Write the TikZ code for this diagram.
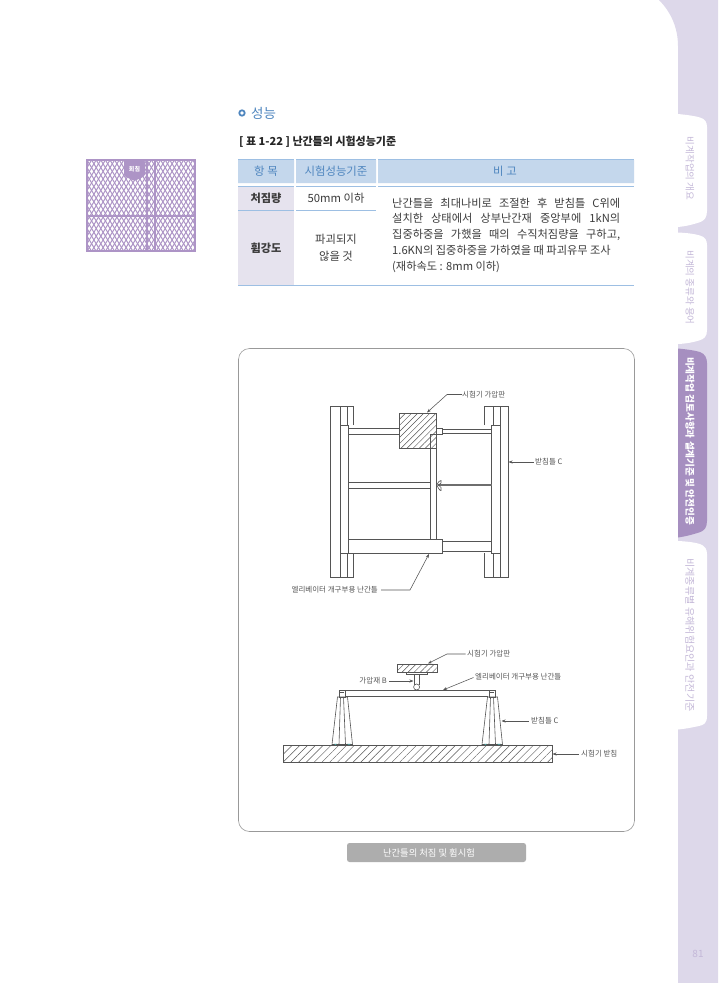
\documentclass[tikz,border=0pt]{standalone}
\usepackage{fontspec}
\usetikzlibrary{patterns,patterns.meta,arrows.meta,calc}
\setmainfont{Noto Sans CJK KR}
\definecolor{band}{HTML}{DDD8EA}
\definecolor{tabdark}{HTML}{A68FC0}
\definecolor{tabtxt}{HTML}{C4B8D8}
\definecolor{blue1}{HTML}{4F86BF}
\definecolor{head}{HTML}{C4D7EC}
\definecolor{tline}{HTML}{9DBFE3}
\definecolor{rowg}{HTML}{E6E3EE}
\definecolor{txt}{HTML}{3C3C3C}
\definecolor{lineg}{HTML}{555555}
\definecolor{meshc}{HTML}{AD94C6}
\tikzset{
 x=1pt,y=-1pt,
 tabtext/.style={rotate=-90,text=tabtxt,font=\fontsize{9.5}{11}\selectfont,inner sep=0},
 hd/.style={text=blue1,font=\fontsize{11.4}{13}\selectfont,inner sep=0},
 cell/.style={text=txt,font=\fontsize{11.3}{15}\selectfont,inner sep=0,align=center},
 cellb/.style={text=txt,font=\bfseries\fontsize{11.2}{13}\selectfont,inner sep=0},
 rem/.style={text=txt,font=\fontsize{11.2}{15.6}\selectfont,inner sep=0,anchor=west,text height=9pt,text depth=2.5pt},
 dwg/.style={draw=lineg,line width=.6pt},
 callarrow/.style={draw=lineg,line width=.55pt,-{Stealth[length=4pt,width=3pt]}},
 lab/.style={text=lineg,font=\fontsize{7.5}{8}\selectfont,inner sep=0},
 hatchbox/.style={draw=lineg,line width=.6pt,pattern={Lines[angle=45,distance=4.3pt,line width=.45pt]},pattern color=lineg},
 hatchbase/.style={draw=lineg,line width=.6pt,pattern={Lines[angle=45,distance=5.5pt,line width=.45pt]},pattern color=lineg},
 tline/.style={draw=tline,line width=1.1pt},
}
\begin{document}
\begin{tikzpicture}
\useasboundingbox (0,0) rectangle (718,983);
\fill[white] (0,0) rectangle (718,983);
% side band
\fill[band] (659,0) .. controls (671,12) and (678,28) .. (678,46) -- (678,983) -- (718,983) -- (718,0) -- cycle;
% tabs
\fill[white] (678,114) .. controls (688,115) and (695,116) .. (700,117.5) .. controls (705,119) and (707,122) .. (707,127) -- (707,211) .. controls (707,218) and (704,221) .. (699,222.5) .. controls (694,224) and (688,226) .. (678,227) -- cycle;
\fill[white] (678,232.5) .. controls (688,233) and (695,234) .. (700,235.5) .. controls (705,237) and (707,240) .. (707,245) -- (707,330) .. controls (707,337) and (704,339) .. (699,340.5) .. controls (694,342) and (688,343.5) .. (678,344) -- cycle;
\fill[tabdark] (678,348.5) .. controls (688,349.5) and (695,350.5) .. (700,352) .. controls (705,354) and (707,358) .. (707,363) -- (707,521) .. controls (707,528) and (704,531) .. (699,532.5) .. controls (694,534) and (688,536) .. (678,537.5) -- cycle;
\fill[white] (678,541) .. controls (688,541.5) and (695,542.5) .. (700,544) .. controls (705,546) and (707,549) .. (707,554) -- (707,716) .. controls (707,723) and (704,725) .. (699,726) .. controls (694,727) and (688,728.5) .. (678,729.5) -- cycle;
\node[tabtext] (t1) at (690,168.5) {비계작업의 개요};
\node[tabtext] (t2) at (690,287.5) {비계의 종류와 용어};
\node[tabtext,text=white,font=\bfseries\fontsize{9.6}{11}\selectfont] (t3) at (690,441) {비계작업 검토사항과 설계기준 및 안전인증};
\node[tabtext,font=\fontsize{10.1}{11}\selectfont] (t4) at (690,635) {비계종류별 유해위험요인과 안전기준};
\node[text=tabtxt,font=\fontsize{10}{12}\selectfont,inner sep=0] (pg) at (698,954) {81};
% heading
\draw[blue1,line width=1.8pt] (242,113) circle (2.7);
\node[text=blue1,font=\fontsize{13.5}{15}\selectfont,inner sep=0,anchor=west] (h1) at (251,113) {성능};
\node[text=black!85,font=\bfseries\fontsize{11}{13}\selectfont,inner sep=0,anchor=west] (h2) at (239,142) {[ 표 1-22 ] 난간틀의 시험성능기준};
% mesh icon
\begin{scope}
\clip (87,160) rectangle (195,251);
\foreach \i in {-20,...,40}{
 \draw[meshc,line width=1pt] (87+\i*4.6,160) -- ++(55,91);
 \draw[meshc,line width=1pt] (87+\i*4.6,160) -- ++(-55,91);
}
\end{scope}
\draw[meshc,line width=2.2pt] (87,160) rectangle (195,251);
\draw[meshc,line width=2pt] (146.5,160) -- (146.5,251) (155,160) -- (155,251) (87,215.5) -- (195,215.5);
\fill[meshc,rounded corners=1.5pt] (124,160) -- (124,176) -- (134.5,181) -- (145,176) -- (145,160) -- cycle;
\node[text=white,font=\bfseries\fontsize{6}{7}\selectfont,inner sep=0] (tag) at (134.5,169) {회침};
% table
\fill[head] (238,160) rectangle (294,183) (296,160) rectangle (376,183) (378,160) rectangle (634,183);
\fill[rowg] (238,187) rectangle (294,285);
\foreach \a/\b in {238/294,296/376,378/634}{
 \draw[tline] (\a,159.5) -- (\b,159.5);
 \draw[tline] (\a,186.5) -- (\b,186.5);
}
\draw[tline] (238,210.5) -- (294,210.5) (296,210.5) -- (376,210.5);
\draw[tline] (238,285.5) -- (634,285.5);
\node[hd] (a1) at (266,171) {항 목};
\node[hd] (a2) at (336,171) {시험성능기준};
\node[hd] (a3) at (505,171) {비 고};
\node[cellb] (b1) at (266,198) {처짐량};
\node[cellb] (b2) at (266,248) {휨강도};
\node[cell] (c1) at (336,198) {50mm 이하};
\node[cell,font=\fontsize{11.3}{17}\selectfont] (c2) at (336,248) {파괴되지\\않을 것};
\node[rem] (r1) at (392,204) {\makebox[228pt][s]{난간틀을 최대나비로 조절한 후 받침틀 C위에}};
\node[rem] (r2) at (392,219.7) {\makebox[228pt][s]{설치한 상태에서 상부난간재 중앙부에 1kN의}};
\node[rem] (r3) at (392,235.4) {\makebox[228pt][s]{집중하중을 가했을 때의 수직처짐량을 구하고,}};
\node[rem] (r4) at (392,251.1) {1.6KN의 집중하중을 가하였을 때 파괴유무 조사};
\node[rem] (r5) at (392,267) {(재하속도 : 8mm 이하)};
% panel
\draw[draw=black!40,line width=.6pt,rounded corners=11pt] (238.5,348.5) rectangle (634.5,831.5);
\fill[black!32,rounded corners=2.5pt] (347,843) rectangle (526,862);
\node[text=white,font=\fontsize{9.3}{12}\selectfont,inner sep=0] (cap) at (429,852.5) {난간틀의 처짐 및 휨시험};
% TOP VIEW: left frame
\draw[dwg] (353,425) -- (353,406) -- (330,406) -- (330,577) -- (353,577) -- (353,553);
\draw[dwg] (340,406) -- (340,577);
\draw[dwg] (347.3,406) -- (347.3,425) (347.3,553) -- (347.3,577);
\draw[dwg] (340,425) -- (348.3,425) -- (348.3,553) -- (340,553);
% right frame
\draw[dwg] (484,425) -- (484,406) -- (508,406) -- (508,577) -- (484,577) -- (484,553);
\draw[dwg] (500,406) -- (500,577);
\draw[dwg] (493.5,406) -- (493.5,425) (493.5,553) -- (493.5,577);
\draw[dwg] (500,425) -- (491.7,425) -- (491.7,553) -- (500,553);
% rails
\draw[dwg] (348,428.5) -- (399,428.5) (348,434) -- (399,434);
\draw[dwg] (436,428.5) -- (442,428.5) -- (442,434) -- (436,434);
\draw[dwg] (442,429.5) -- (491.7,429.5) (442,433.5) -- (491.7,433.5);
\draw[dwg] (348,482) -- (430.5,482) (348,488) -- (430.5,488);
\draw[dwg] (430.5,434) -- (430.5,539) (436,448) -- (436,539);
\draw[dwg] (348,539) -- (442,539) -- (442,553) -- (348,553);
\draw[dwg] (442,541.5) -- (491.7,541.5) (442,551.5) -- (491.7,551.5);
\path[hatchbox] (399,413) rectangle (436,448);
\draw[dwg] (430.5,434) -- (430.5,448) (430.5,434) -- (436,434);
% threaded rod
\draw[lineg!85,line width=1.4pt,dash pattern=on .5pt off .25pt] (438,485) -- (491.7,485);
\draw[dwg] (437,485) .. controls (438,482) and (440,480) .. (441,480.5) .. controls (442,482) and (441,484) .. (438.5,485) .. controls (441,486) and (442,489) .. (441,490.5) .. controls (440,491) and (438,488) .. (437,485);
% top callouts
\node[lab,anchor=west] (l1) at (462,394.5) {시험기 가압판};
\coordinate (l1k) at (447,394.5);
\coordinate (l1t) at (427,412.5);
\draw[callarrow] (l1.west) -- (l1k) -- (l1t);
\node[lab,anchor=west] (l2) at (535,462) {받침틀 C};
\coordinate (l2t) at (508.5,462);
\draw[callarrow] (l2.west) ++(-1.5,0) -- (l2t);
\node[lab,anchor=east] (l3) at (378,590) {엘리베이터 개구부용 난간틀};
\coordinate (l3k) at (410,590);
\coordinate (l3t) at (429,554);
\draw[callarrow] (l3.east) ++(3,0) -- (l3k) -- (l3t);
% BOTTOM VIEW
\path[hatchbase] (283,745) rectangle (552,762);
\path[hatchbox] (397,664) rectangle (437,672);
\draw[dwg] (406,672) rectangle (427,674);
\draw[dwg] (414,674) -- (414,684.5) (419,674) -- (419,684.5);
\draw[dwg,fill=white] (416.6,687) circle (3);
\draw[dwg] (339,690) -- (495,690) (345,696.7) -- (488,696.7);
% supports
\foreach \o in {0,150}{
 \draw[dwg,fill=white] (332+\o,744.5) -- (337.5+\o,697) -- (347.5+\o,697) -- (352.5+\o,744.5) -- cycle;
 \draw[dwg] (340.5+\o,697) -- (339+\o,744.5) (343.5+\o,697) -- (345.5+\o,744.5);
 \draw[dwg] (339+\o,690) rectangle (345+\o,697);
 \draw[dwg] (340+\o,692) -- (344+\o,692);
 \fill[teal!70] (334+\o,743.8) -- (337+\o,743.8) -- (335.5+\o,745) -- cycle;
 \fill[teal!70] (347+\o,743.8) -- (351+\o,743.8) -- (349+\o,745) -- cycle;
}
% bottom callouts
\node[lab,anchor=west] (m1) at (467,654) {시험기 가압판};
\coordinate (m1k) at (447,654);
\coordinate (m1t) at (428,663.5);
\draw[callarrow] (m1.west) ++(-1.5,0) -- (m1k) -- (m1t);
\node[lab,anchor=east] (m2) at (387,681) {가압재 B};
\coordinate (m2t) at (413.5,681);
\draw[callarrow] (m2.east) ++(2,0) -- (m2t);
\node[lab,anchor=west] (m3) at (475,677) {엘리베이터 개구부용 난간틀};
\coordinate (m3t) at (443,690);
\draw[callarrow] (m3.west) ++(-1.5,.5) -- (m3t);
\node[lab,anchor=west] (m4) at (531,721) {받침틀 C};
\coordinate (m4t) at (501.5,721);
\draw[callarrow] (m4.west) ++(-2.5,0) -- (m4t);
\node[lab,anchor=west] (m5) at (581,754) {시험기 받침};
\coordinate (m5t) at (552.5,754);
\draw[callarrow] (m5.west) ++(-2.5,0) -- (m5t);
\end{tikzpicture}
\end{document}
